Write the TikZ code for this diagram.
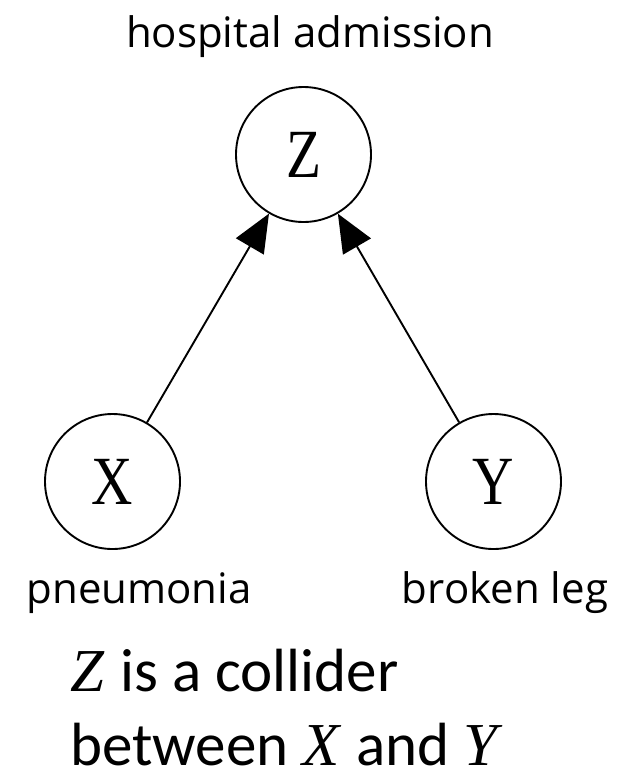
\documentclass[tikz,border=0pt]{standalone}
\usepackage{fontspec}
\usepackage{graphicx}
\setmainfont{Open Sans}
\newfontfamily\labelfont{Open Sans}
\newfontfamily\nodefont{Liberation Serif}
\newfontfamily\notefont{Carlito}
\newfontfamily\varfont{Liberation Serif}
\usetikzlibrary{arrows.meta}
\tikzset{
  var/.style={draw, circle, line width=1.9pt, minimum size=135pt, inner sep=0pt,
    font=\fontsize{69}{69}\nodefont},
  lab/.style={anchor=base, inner sep=0pt, font=\fontsize{42}{42}\labelfont},
  edge/.style={line width=1.9pt, -{Triangle[length=38pt,width=32pt]}},
  note/.style={anchor=base west, inner sep=0pt, font=\fontsize{61}{61}\notefont}
}
\newcommand{\nv}[1]{{\varfont\itshape #1}\hspace{3pt}}
\newcommand{\sq}[1]{\scalebox{0.83}[1]{#1}}
\begin{document}
\begin{tikzpicture}[x=1pt,y=-1pt]
\useasboundingbox (0,0) rectangle (627,774);
\node[var] (Z) at (303.5,154.5) {\sq{Z}};
\node[var] (X) at (112.5,481.5) {\sq{X}};
\node[var] (Y) at (493.5,481.5) {\sq{Y}};
\draw[edge] (X) -- (Z);
\draw[edge] (Y) -- (Z);
\node[lab] (lz) at (310,47) {hospital admission};
\node[lab] (lx) at (139,603) {pneumonia};
\node[lab] (ly) at (505,603) {broken leg};
\node[note] (n1) at (70,691) {\nv{Z} is a collider};
\node[note] (n2) at (70,765) {between \nv{X} and \nv{Y}};
\end{tikzpicture}
\end{document}
